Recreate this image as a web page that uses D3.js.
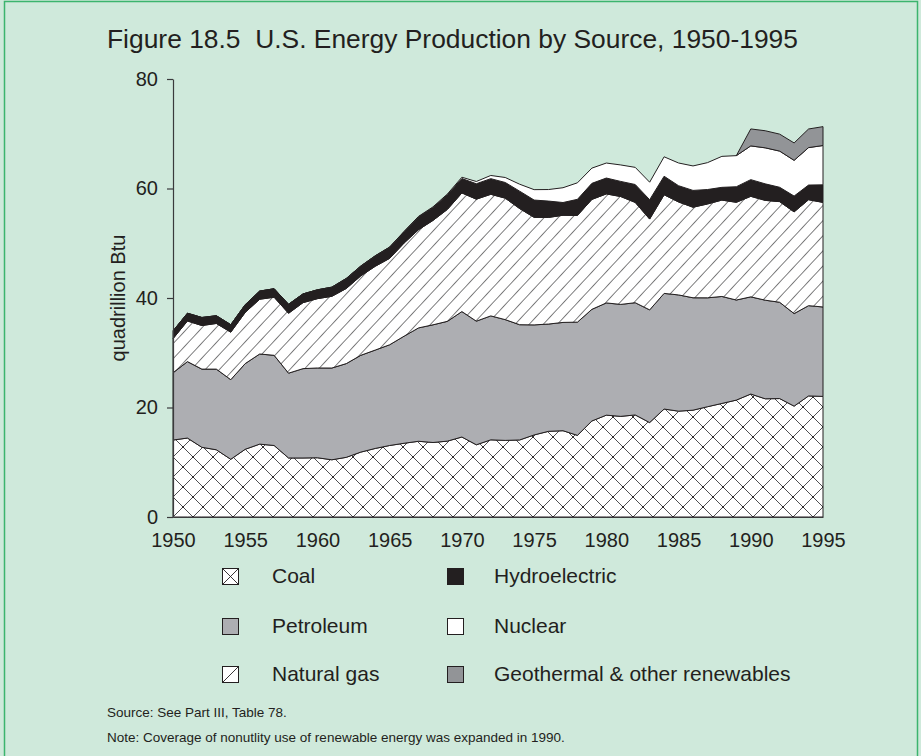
<!DOCTYPE html>
<html><head><meta charset="utf-8">
<script src="https://cdn.jsdelivr.net/npm/d3@7"></script>
<style>body{margin:0;background:#cfe9db}svg{display:block}</style>
</head><body>
<svg id="c" width="921" height="756"></svg>
<script>
const years=[1950,1951,1952,1953,1954,1955,1956,1957,1958,1959,1960,1961,1962,1963,1964,1965,1966,1967,1968,1969,1970,1971,1972,1973,1974,1975,1976,1977,1978,1979,1980,1981,1982,1983,1984,1985,1986,1987,1988,1989,1990,1991,1992,1993,1994,1995];
const coal=[14.06,14.42,12.73,12.28,10.54,12.37,13.31,13.06,10.78,10.78,10.82,10.45,10.90,11.85,12.52,13.06,13.47,13.83,13.61,13.86,14.61,13.19,14.09,13.99,14.07,14.99,15.65,15.76,14.91,17.54,18.60,18.38,18.64,17.25,19.72,19.33,19.51,20.14,20.74,21.35,22.46,21.59,21.63,20.25,22.11,22.03];
const petroleum=[12.27,13.96,14.28,14.73,14.54,15.65,16.46,16.47,15.49,16.32,16.40,16.76,17.12,17.68,17.97,18.40,19.56,20.71,21.49,21.88,22.91,22.58,22.64,22.06,21.05,20.10,19.59,19.78,20.68,20.39,20.50,20.45,20.50,20.58,21.12,21.23,20.53,19.89,19.54,18.28,17.75,18.01,17.59,16.90,16.49,16.33];
const naturalGas=[6.23,7.42,7.96,8.34,8.68,9.35,10.00,10.61,10.94,12.05,12.66,13.10,13.72,14.51,15.30,15.78,17.01,17.94,19.07,20.45,21.67,22.28,22.21,22.19,21.21,19.64,19.48,19.57,19.49,20.08,19.91,19.70,18.32,16.59,18.01,16.98,16.54,17.14,17.60,17.85,18.36,18.23,18.38,18.58,19.35,19.10];
const hydro=[1.42,1.42,1.47,1.41,1.36,1.41,1.49,1.55,1.64,1.59,1.61,1.66,1.82,1.77,1.89,2.03,2.07,2.34,2.34,2.66,2.63,2.82,2.86,2.86,3.18,3.16,2.98,2.33,2.94,2.93,2.90,2.76,3.27,3.53,3.39,2.97,3.07,2.64,2.33,2.84,3.05,3.02,2.62,2.89,2.68,3.21];
const nuclear=[0,0,0,0,0,0,0,0,0,0,0.01,0.02,0.03,0.04,0.04,0.04,0.06,0.09,0.14,0.15,0.24,0.41,0.58,0.91,1.27,1.90,2.11,2.70,3.02,2.78,2.74,3.01,3.13,3.20,3.55,4.15,4.47,4.91,5.66,5.68,6.16,6.58,6.61,6.52,6.84,7.18];
const renewables=[0,0,0,0,0,0,0,0,0,0,0,0,0,0,0,0,0,0,0,0,0,0,0,0,0,0,0,0,0,0,0,0,0,0,0,0,0,0,0,0,3.10,3.12,3.10,3.18,3.40,3.45];
const xTicks=[1950,1955,1960,1965,1970,1975,1980,1985,1990,1995];
const yTicks=[0,20,40,60,80];
const seriesNames=["Coal","Petroleum","Natural gas","Hydroelectric","Nuclear","Geothermal & other renewables"];
const seriesKeys=["coal","petroleum","naturalGas","hydro","nuclear","renewables"];
const titleText="Figure 18.5\u00a0\u00a0U.S. Energy Production by Source, 1950-1995";
const yLabel="quadrillion Btu";
const sourceText="Source: See Part III, Table 78.";
const noteText="Note: Coverage of nonutlity use of renewable energy was expanded in 1990.";

const INK="#231f20";
const FONT="'Liberation Sans', Arial, Helvetica, sans-serif";
const fills={coal:"url(#coalPat)",petroleum:"#adaeb2",naturalGas:"url(#gasPat)",hydro:INK,nuclear:"#ffffff",renewables:"#929497"};

const svg=d3.select("#c");
svg.append("rect").attr("width",921).attr("height",756).attr("fill","#cfe9db");
svg.append("path").attr("d","M4.5,760V1.5H917.5V760").attr("fill","none").attr("stroke","#3cb46e").attr("stroke-width",1.5);

const defs=svg.append("defs");
const P=20;
const cp=defs.append("pattern").attr("id","coalPat").attr("patternUnits","userSpaceOnUse").attr("width",P).attr("height",P).attr("x",173).attr("y",517);
cp.append("rect").attr("width",P).attr("height",P).attr("fill","#fff");
cp.append("path").attr("d",`M0,0L${P},${P}M${P},0L0,${P}M-1,1L1,-1M${P-1},${P+1}L${P+1},${P-1}`).attr("stroke","#3a3a3c").attr("stroke-width",0.9);
[[0,0],[P,0],[0,P],[P,P],[P/2,P/2]].forEach(([a,b])=>cp.append("circle").attr("cx",a).attr("cy",b).attr("r",1).attr("fill",INK));
const gp=defs.append("pattern").attr("id","gasPat").attr("patternUnits","userSpaceOnUse").attr("width",10.3).attr("height",10.3).attr("patternTransform","rotate(43)");
gp.append("rect").attr("width",10.3).attr("height",10.3).attr("fill","#fff");
gp.append("line").attr("x1",0).attr("y1",0).attr("x2",0).attr("y2",10.3).attr("stroke","#3a3a3c").attr("stroke-width",1.3);

const x=d3.scaleLinear().domain([1950,1995]).range([173,823]);
const y=d3.scaleLinear().domain([0,80]).range([517,79]);

const rows=years.map((yr,i)=>({year:yr,coal:coal[i],petroleum:petroleum[i],naturalGas:naturalGas[i],hydro:hydro[i],nuclear:nuclear[i],renewables:renewables[i]}));
const stacked=d3.stack().keys(seriesKeys)(rows);
const area=d3.area().x(d=>x(d.data.year)).y0(d=>y(d[0])).y1(d=>y(d[1]));

svg.append("g").selectAll("path").data(stacked).join("path")
  .attr("d",s=>{
    if(s.key==="renewables"){return area.defined((d,i)=>i>=39)(s);} 
    return area.defined(()=>true)(s);})
  .attr("fill",s=>fills[s.key]).attr("stroke",INK).attr("stroke-width",1).attr("stroke-linejoin","round");

const yAxis=svg.append("g").attr("transform","translate(173,0)")
  .call(d3.axisLeft(y).tickValues(yTicks).tickSize(6).tickSizeOuter(0).tickPadding(9).tickFormat(d3.format("d")));
const xAxis=svg.append("g").attr("transform","translate(0,517)")
  .call(d3.axisBottom(x).tickValues(xTicks).tickSize(0).tickSizeOuter(0).tickPadding(16).tickFormat(d3.format("d")));
[yAxis,xAxis].forEach(g=>{
  g.selectAll("path,line").attr("stroke","#3a3a3c").attr("stroke-width",1.2);
  g.selectAll("text").attr("fill",INK).attr("font-family",FONT).attr("font-size",20);
});

svg.append("text").attr("transform","translate(125,298) rotate(-90)").attr("text-anchor","middle")
  .attr("font-family",FONT).attr("font-size",20).attr("fill",INK).text(yLabel);

svg.append("text").attr("x",107).attr("y",48).attr("font-family",FONT).attr("font-size",26.4).attr("fill",INK).text(titleText);

const legX=[222,447], legTX=[272,494], legY=[576,626,674];
const BS=16;
seriesKeys.forEach((k,i)=>{
  const col=Math.floor(i/3), row=i%3;
  const bx=legX[col], by=legY[row]-BS/2;
  const g=svg.append("g");
  const f=(k==="coal"||k==="naturalGas")?"#fff":fills[k];
  g.append("rect").attr("x",bx+0.5).attr("y",by+0.5).attr("width",BS).attr("height",BS).attr("fill",f).attr("stroke",INK).attr("stroke-width",1);
  if(k==="coal"){g.append("path").attr("d",`M${bx+0.5},${by+0.5}L${bx+BS+0.5},${by+BS+0.5}M${bx+BS+0.5},${by+0.5}L${bx+0.5},${by+BS+0.5}`).attr("stroke",INK).attr("stroke-width",0.9);}
  if(k==="naturalGas"){g.append("path").attr("d",`M${bx+0.5},${by+BS+0.5}L${bx+BS+0.5},${by+0.5}`).attr("stroke",INK).attr("stroke-width",0.9);}
  g.append("text").attr("x",legTX[col]).attr("y",legY[row]).attr("dy","0.35em").attr("font-family",FONT).attr("font-size",21).attr("fill",INK).text(seriesNames[i]);
});

svg.append("text").attr("x",107).attr("y",717).attr("font-family",FONT).attr("font-size",13.5).attr("fill",INK).text(sourceText);
svg.append("text").attr("x",107).attr("y",742).attr("font-family",FONT).attr("font-size",13.5).attr("fill",INK).text(noteText);
</script>
</body></html>
